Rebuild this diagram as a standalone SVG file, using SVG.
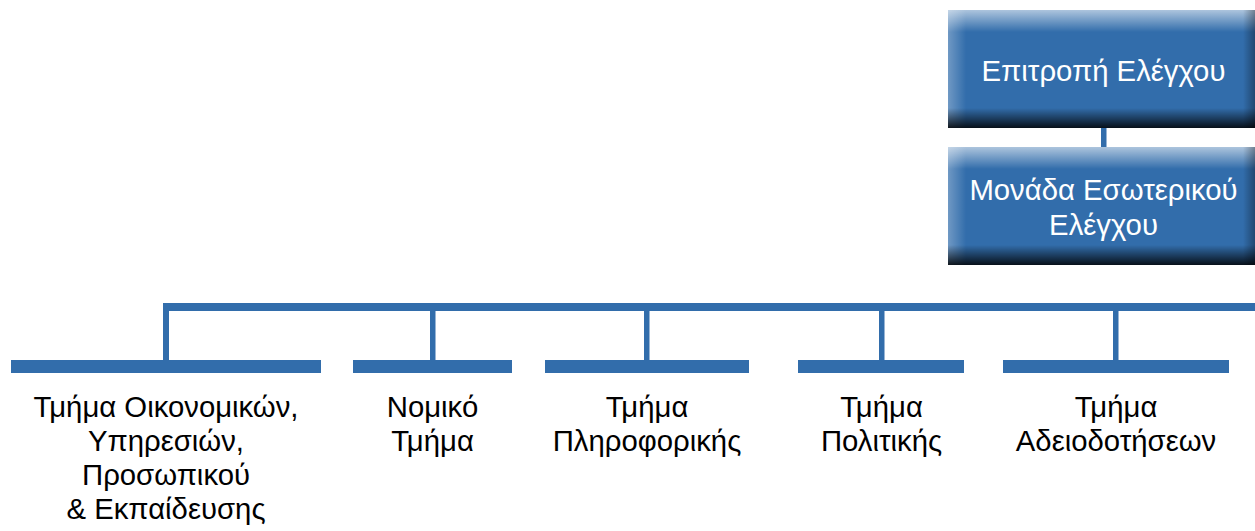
<svg xmlns="http://www.w3.org/2000/svg" width="1255" height="531" viewBox="0 0 1255 531">
<style>
.blue{fill:#326dab}
.wt{font-family:"Liberation Sans",Arial,sans-serif;font-size:29.3px;fill:#ffffff;text-anchor:middle}
.bt{font-family:"Liberation Sans",Arial,sans-serif;font-size:29.3px;fill:#000000;text-anchor:middle}
</style>
<defs>
<linearGradient id="gTop" x1="0" y1="0" x2="0" y2="1"><stop offset="0" stop-color="#ffffff" stop-opacity="0.6"/><stop offset="1" stop-color="#ffffff" stop-opacity="0"/></linearGradient>
<linearGradient id="gLeft" x1="0" y1="0" x2="1" y2="0"><stop offset="0" stop-color="#ffffff" stop-opacity="0.3"/><stop offset="1" stop-color="#ffffff" stop-opacity="0"/></linearGradient>
<linearGradient id="gBot" x1="0" y1="0" x2="0" y2="1"><stop offset="0" stop-color="#000000" stop-opacity="0"/><stop offset="1" stop-color="#000000" stop-opacity="0.85"/></linearGradient>
<linearGradient id="gRight" x1="0" y1="0" x2="1" y2="0"><stop offset="0" stop-color="#000000" stop-opacity="0"/><stop offset="1" stop-color="#000000" stop-opacity="0.45"/></linearGradient>
</defs>
<g id="connectors" class="blue">
<rect x="1101" y="127" width="5.5" height="21"/>
<rect x="163" y="303" width="1092" height="8"/>
<rect x="163" y="303" width="6" height="58"/>
<rect x="430" y="310" width="5.5" height="51"/>
<rect x="644" y="310" width="5.5" height="51"/>
<rect x="879" y="310" width="5.5" height="51"/>
<rect x="1113" y="310" width="5.5" height="51"/>
</g>
<g id="n-epitropi">
<rect class="blue" x="948" y="10" width="311" height="118"/>
<rect x="948" y="10" width="311" height="22" fill="url(#gTop)"/>
<rect x="948" y="10" width="18" height="118" fill="url(#gLeft)"/>
<rect x="948" y="108" width="311" height="20" fill="url(#gBot)"/>
<rect x="1243" y="10" width="16" height="118" fill="url(#gRight)"/>
<text class="wt" x="1103.5" y="81">Επιτροπή Ελέγχου</text>
</g>
<g id="n-monada">
<rect class="blue" x="948" y="147" width="311" height="118"/>
<rect x="948" y="147" width="311" height="22" fill="url(#gTop)"/>
<rect x="948" y="147" width="18" height="118" fill="url(#gLeft)"/>
<rect x="948" y="245" width="311" height="20" fill="url(#gBot)"/>
<rect x="1243" y="147" width="16" height="118" fill="url(#gRight)"/>
<text class="wt" x="1103.5" y="200">Μονάδα Εσωτερικού</text>
<text class="wt" x="1103.5" y="235">Ελέγχου</text>
</g>
<g id="n-oikonomikon">
<rect class="blue" x="11" y="360" width="310" height="13"/>
<text class="bt" x="166" y="417">Τμήμα Οικονομικών,</text>
<text class="bt" x="166" y="451">Υπηρεσιών,</text>
<text class="bt" x="166" y="485">Προσωπικού</text>
<text class="bt" x="166" y="519">&amp; Εκπαίδευσης</text>
</g>
<g id="n-nomiko">
<rect class="blue" x="353" y="360" width="159" height="13"/>
<text class="bt" x="432.5" y="417">Νομικό</text>
<text class="bt" x="432.5" y="451">Τμήμα</text>
</g>
<g id="n-pliroforikis">
<rect class="blue" x="545" y="360" width="204" height="13"/>
<text class="bt" x="647" y="417">Τμήμα</text>
<text class="bt" x="647" y="451">Πληροφορικής</text>
</g>
<g id="n-politikis">
<rect class="blue" x="798" y="360" width="166" height="13"/>
<text class="bt" x="881.5" y="417">Τμήμα</text>
<text class="bt" x="881.5" y="451">Πολιτικής</text>
</g>
<g id="n-adeiodotiseon">
<rect class="blue" x="1003" y="360" width="226" height="13"/>
<text class="bt" x="1116" y="417">Τμήμα</text>
<text class="bt" x="1116" y="451">Αδειοδοτήσεων</text>
</g>
</svg>
